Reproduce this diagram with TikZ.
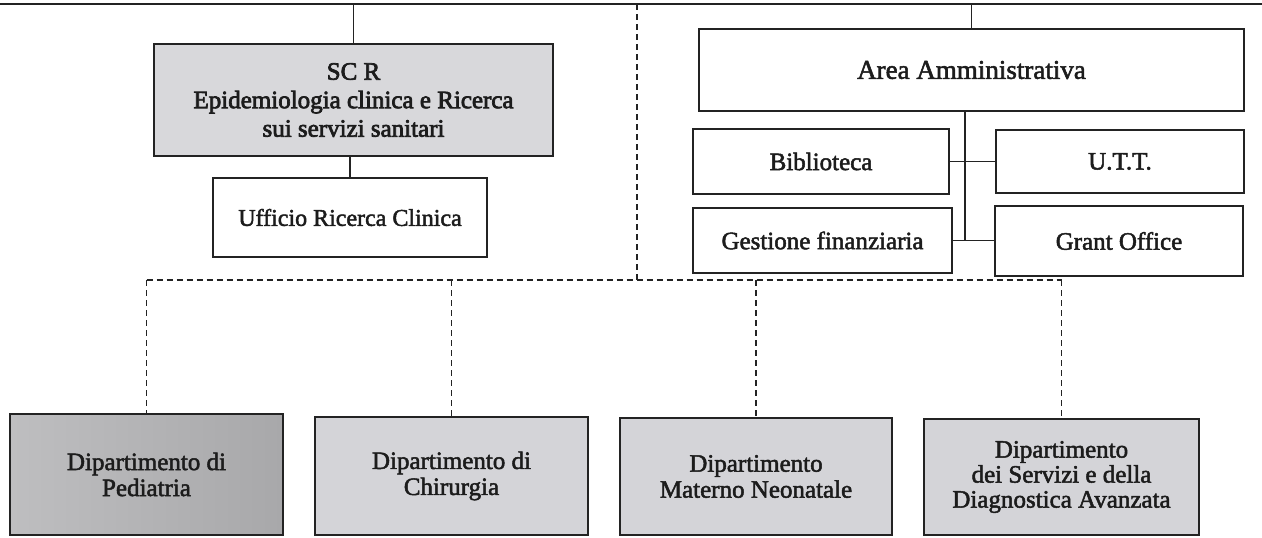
\documentclass[tikz,border=0pt]{standalone}
\usepackage{fontspec}
\setmainfont{Liberation Serif}
\newfontfamily\semib{Liberation Serif}[FakeBold=2]
\newfontfamily\boldish{Liberation Serif}[FakeBold=2.8]
\definecolor{linec}{RGB}{35,35,35}
\definecolor{textc}{RGB}{28,28,28}
\definecolor{scrfill}{RGB}{216,216,219}
\definecolor{depfill}{RGB}{212,212,216}
\definecolor{pedL}{RGB}{190,190,192}
\definecolor{pedR}{RGB}{168,168,170}
\begin{document}
\begin{tikzpicture}[x=1pt,y=-1pt,
  box/.style={draw=linec, line width=2pt, rectangle, align=center, inner sep=0pt, fill=white,
    text=textc, font=\semib\fontsize{25}{26}\selectfont},
  dept/.style={box, fill=depfill},
  conn/.style={draw=linec, line width=1.6pt},
  dconn/.style={draw=linec, line width=1.2pt, dash pattern=on 6pt off 4pt}]
\useasboundingbox (0,0) rectangle (1262,538);

% top level boxes
\node[box, fill=scrfill, minimum width=399pt, minimum height=112pt,
      font=\boldish\fontsize{25}{28.5}\selectfont] (scr) at (353.5,100)
      {SC R\\Epidemiologia clinica e Ricerca\\sui servizi sanitari};
\node[box, minimum width=274pt, minimum height=79pt, font=\semib\fontsize{24}{26}\selectfont] (uff) at (350,217.5) {Ufficio Ricerca Clinica};

\node[box, minimum width=545pt, minimum height=82pt, font=\semib\fontsize{27}{28}\selectfont] (area) at (971.5,70) {Area Amministrativa};
\node[box, minimum width=256pt, minimum height=65pt] (bib) at (821,161.5) {Biblioteca};
\node[box, minimum width=248pt, minimum height=63pt] (utt) at (1120,161.5) {U.T.T.};
\node[box, minimum width=259pt, minimum height=65pt] (gest) at (822.5,240.5) {Gestione finanziaria};
\node[box, minimum width=248pt, minimum height=70pt] (grant) at (1119,241) {Grant Office};

% departments
\node[box, left color=pedL, right color=pedR, minimum width=273pt, minimum height=121pt] (ped) at (146.5,474.5) {Dipartimento di\\Pediatria};
\node[dept, minimum width=273pt, minimum height=118pt] (chir) at (451.5,476) {Dipartimento di\\Chirurgia};
\node[dept, minimum width=272pt, minimum height=117pt] (mat) at (756,476.5) {Dipartimento\\Materno Neonatale};
\node[dept, minimum width=275pt, minimum height=116pt, font=\semib\fontsize{25}{25}\selectfont] (serv) at (1061.5,477) {Dipartimento\\dei Servizi e della\\Diagnostica Avanzata};

% top line
\coordinate (topL) at (0,4);
\coordinate (topR) at (1262,4);
\draw[conn, line width=2pt] (topL) -- (topR);
\draw[conn] (scr.north) -- (scr.north |- topL);
\draw[conn] (area.north) -- (area.north |- topL);
\draw[conn] (uff.north |- scr.south) -- (uff.north);

% admin connectors
\coordinate (spineTop) at (965,111);
\coordinate (spineBot) at (965,241);
\draw[conn] (area.south -| spineTop) -- (spineBot);
\draw[conn] (bib.east) -- (utt.west |- bib.east);
\draw[conn] (gest.east) -- (grant.west |- gest.east);

% dashed connectors
\coordinate (dtop) at (637,4);
\coordinate (dcorner) at (637,280);
\draw[dconn] (dtop) -- (dcorner);
\draw[dconn] (ped.north |- dcorner) -- (serv.north |- dcorner);
\foreach \n in {ped,chir,mat,serv}
  \draw[dconn] (\n.north |- dcorner) -- (\n.north);
\end{tikzpicture}
\end{document}
